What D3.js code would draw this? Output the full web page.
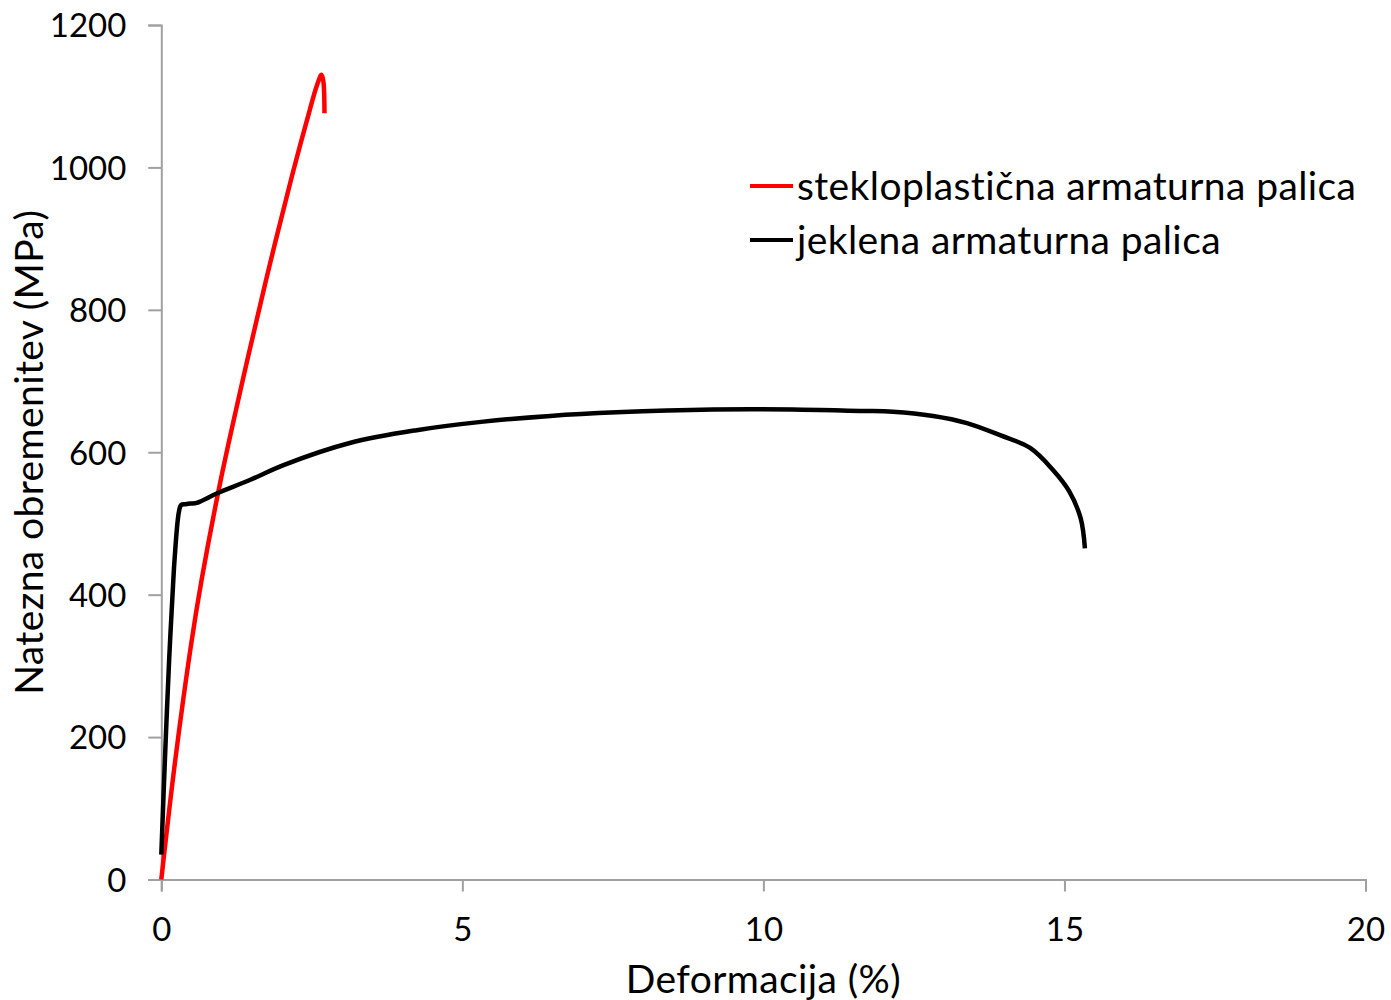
<!DOCTYPE html>
<html>
<head>
<meta charset="utf-8">
<script src="https://cdn.jsdelivr.net/npm/d3@7"></script>
<style>
  html, body { margin: 0; padding: 0; background: #fff; }
  svg text { font-family: Lato, "Open Sans", sans-serif; fill: #000; }
</style>
</head>
<body>
<svg id="chart" width="1391" height="1000"></svg>
<script>
// Data
const seriesNames = ["stekloplastična armaturna palica", "jeklena armaturna palica"];
const seriesColors = ["#ff0000", "#000000"];
const gfrpStrain = [0, 0.228, 0.495, 0.67, 0.987, 1.352, 1.74, 2.17, 2.47, 2.58, 2.66, 2.69, 2.71];
const gfrpStress = [0, 165, 330, 421, 561, 701, 842, 988, 1082, 1114, 1130, 1122, 1076];
const steelStrain = [0, 0.06, 0.13, 0.20, 0.22, 0.29, 0.33, 0.40, 0.48, 0.59, 0.92, 1.47, 2.03, 3.13, 4.24, 5.35, 6.46, 7.56, 9.16, 10.49, 11.61, 12.15, 12.82, 13.38, 13.93, 14.43, 14.81, 15.08, 15.27, 15.34];
const steelStress = [35, 168, 308, 421, 449, 515, 526, 527, 528, 529, 542, 561, 582, 613, 631, 643, 651, 656, 660, 660, 658, 657, 651, 641, 624, 606, 575, 545, 507, 465];
const xTicks = [0, 5, 10, 15, 20];
const yTicks = [0, 200, 400, 600, 800, 1000, 1200];
const xTitle = "Deformacija (%)";
const yTitle = "Natezna obremenitev (MPa)";

const svg = d3.select("#chart");
const m = { left: 161.3, top: 25, right: 1391 - 1365.5, bottom: 1000 - 879.5 };
const W = 1391 - m.left - m.right;
const H = 1000 - m.top - m.bottom;

const x = d3.scaleLinear().domain([0, 20]).range([0, W]);
const y = d3.scaleLinear().domain([0, 1200]).range([H, 0]);

const g = svg.append("g").attr("transform", `translate(${m.left},${m.top})`);

const axisColor = "#a0a0a0";

const xAxis = g.append("g").attr("transform", `translate(0,${H})`)
  .call(d3.axisBottom(x).tickValues(xTicks).tickSize(12).tickPadding(26).tickFormat(d3.format("d")));
const yAxis = g.append("g")
  .call(d3.axisLeft(y).tickValues(yTicks).tickSize(13).tickPadding(22).tickFormat(d3.format("d")));

[xAxis, yAxis].forEach(a => {
  a.select(".domain").attr("stroke", axisColor).attr("stroke-width", 2);
  a.selectAll(".tick line").attr("stroke", axisColor).attr("stroke-width", 2);
  a.selectAll(".tick text").attr("font-size", 33).attr("font-family", "Lato, sans-serif").attr("fill", "#000");
});
yAxis.selectAll(".tick text").attr("dy", "0.36em");
xAxis.selectAll(".tick text").attr("dy", "0.72em");

const line = d3.line().x(d => x(d[0])).y(d => y(d[1])).curve(d3.curveCatmullRom.alpha(0.5));

const gfrp = gfrpStrain.map((v, i) => [v, gfrpStress[i]]);
const steel = steelStrain.map((v, i) => [v, steelStress[i]]);

g.append("path").datum(gfrp).attr("d", line)
  .attr("fill", "none").attr("stroke", seriesColors[0]).attr("stroke-width", 4.5)
  .attr("stroke-linejoin", "round").attr("stroke-linecap", "butt");
g.append("path").datum(steel).attr("d", line)
  .attr("fill", "none").attr("stroke", seriesColors[1]).attr("stroke-width", 4.5)
  .attr("stroke-linejoin", "round").attr("stroke-linecap", "butt");

// Axis titles
svg.append("text").attr("x", m.left + W / 2).attr("y", 993)
  .attr("text-anchor", "middle").attr("font-size", 39).attr("letter-spacing", 0.4).text(xTitle);
svg.append("text").attr("transform", `translate(43,${m.top + H / 2}) rotate(-90)`)
  .attr("text-anchor", "middle").attr("font-size", 39).attr("letter-spacing", 0.4).text(yTitle);

// Legend
const legend = svg.append("g");
seriesNames.forEach((name, i) => {
  const ly = 186 + i * 54;
  legend.append("line").attr("x1", 750).attr("x2", 793).attr("y1", ly).attr("y2", ly)
    .attr("stroke", seriesColors[i]).attr("stroke-width", 4);
  legend.append("text").attr("x", 797).attr("y", ly).attr("dy", "0.35em")
    .attr("font-size", 39).attr("letter-spacing", 0.4).text(name);
});
</script>
</body>
</html>
